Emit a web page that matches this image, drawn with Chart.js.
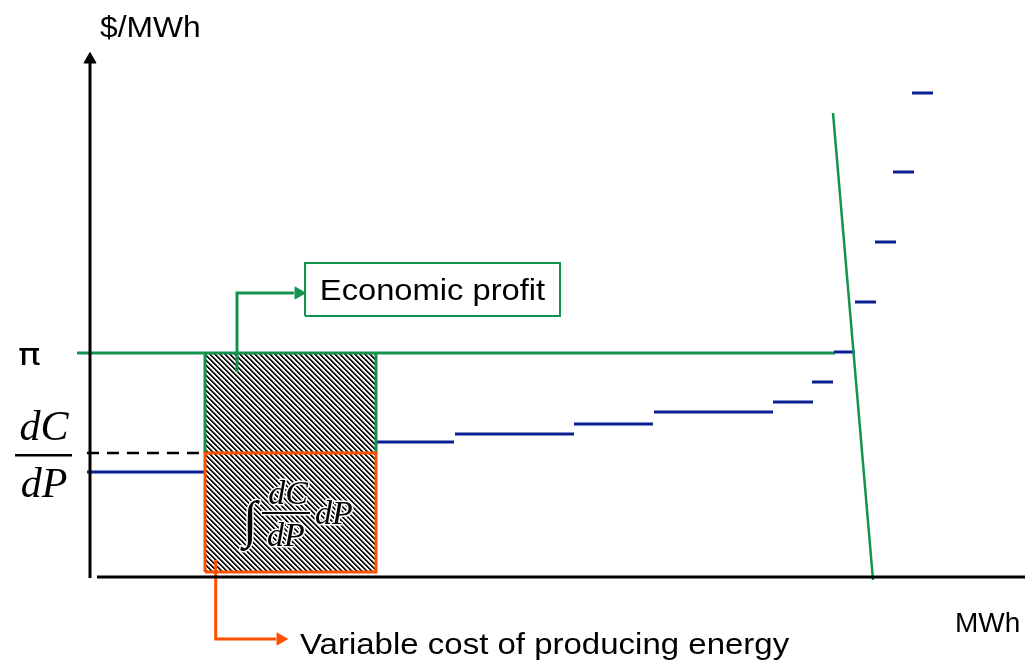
<!DOCTYPE html>
<html>
<head>
<meta charset="utf-8">
<script src="https://cdn.jsdelivr.net/npm/chart.js@4.4.1/dist/chart.umd.min.js"></script>
<style>
  html, body { margin: 0; padding: 0; background: #fff; }
  canvas { display: block; }
</style>
</head>
<body>
<canvas id="chartPasar" width="1025" height="664"></canvas>
<script>
/* =========================
   DATA (x = MWh, y = $/MWh, arbitrary units)
========================= */
// merit order supply steps
const stepPrice = [10.5, 13.5, 14.3, 15.3, 16.5, 17.5, 19.5, 22.5, 27.5, 33.5, 40.5, 48.4];
const stepStart = [-0.3, 28.6, 36.5, 48.4, 56.4, 68.3, 72.2, 74.4, 76.5, 78.5, 80.3, 82.2];
const stepEnd   = [11.5, 36.4, 48.4, 56.3, 68.3, 72.3, 74.3, 76.5, 78.6, 80.6, 82.4, 84.3];

// demand line (almost vertical)
const demandX = [74.3, 78.3];
const demandY = [46.4, -0.3];

// price, marginal cost, and the unit's output block
const price = 22.4;          // pi
const marginalCost = 12.4;   // dC/dP
const unitFrom = 11.5;
const unitTo = 28.6;
const axisStartX = -1.3;     // where pi line starts

// annotation boxes / arrows
const profitBoxX = [21.5, 47.0];
const profitBoxY = [26.1, 31.4];
const profitArrowX = [14.7, 14.7, 20.4];
const profitArrowY = [20.5, 28.4, 28.4];
const costArrowX = [12.57, 12.57, 18.6];
const costArrowY = [1.7, -6.2, -6.2];

const GREEN = "#14934f";
const ORANGE = "#ff5000";
const BLUE = "#0b1f94";

/* =========================
   HELPER
========================= */
function pts(xs, ys) {
  return xs.map((x, i) => ({ x: x, y: ys[i] }));
}

function rectPts(x0, x1, y0, y1) {
  return [{ x: x0, y: y0 }, { x: x1, y: y0 }, { x: x1, y: y1 }, { x: x0, y: y1 }, { x: x0, y: y0 }];
}

function line(data, color, width, order, extra) {
  return Object.assign({
    data: data,
    showLine: true,
    borderColor: color,
    borderWidth: width,
    pointRadius: 0,
    fill: false,
    order: order,
    tension: 0
  }, extra || {});
}

function arrowHead(x, y, color, rotation, radius, order) {
  return {
    data: [{ x: x, y: y }],
    showLine: false,
    pointStyle: "triangle",
    pointRadius: radius,
    pointRotation: rotation,
    pointBackgroundColor: color,
    pointBorderColor: color,
    pointBorderWidth: 1,
    order: order
  };
}

// pola arsir diagonal
function makeHatch() {
  const s = 5;
  const c = document.createElement("canvas");
  c.width = s; c.height = s;
  const g = c.getContext("2d");
  const img = g.createImageData(s, s);
  for (let j = 0; j < s; j++) {
    for (let i = 0; i < s; i++) {
      const d = ((i - j) % s + s) % s;
      let v = 255;
      if (d === 0 || d === 1) v = 20;
      else if (d === 2) v = 150;
      const k = (j * s + i) * 4;
      img.data[k] = v; img.data[k + 1] = v; img.data[k + 2] = v; img.data[k + 3] = 255;
    }
  }
  g.putImageData(img, 0, 0);
  return g.createPattern(c, "repeat");
}

/* =========================
   DATASETS
========================= */
const datasets = [];

// hatched block (profit + variable cost)
datasets.push(line(rectPts(unitFrom, unitTo, 0.4, price), "rgba(0,0,0,0)", 0, 20,
  { fill: "shape", backgroundColor: makeHatch() }));

// blue supply steps
stepPrice.forEach((p, i) => {
  datasets.push(line([{ x: stepStart[i], y: p }, { x: stepEnd[i], y: p }], BLUE, 3, 12));
});

// pi line
datasets.push(line([{ x: axisStartX, y: price }, { x: 74.5, y: price }], GREEN, 3, 13));

// green box sides
datasets.push(line([{ x: unitFrom, y: marginalCost }, { x: unitFrom, y: price }], GREEN, 3, 11));
datasets.push(line([{ x: unitTo, y: marginalCost }, { x: unitTo, y: price }], GREEN, 3, 11));

// orange box
datasets.push(line(rectPts(unitFrom, unitTo, 0.5, marginalCost), ORANGE, 3, 10));

// dashed dC/dP
datasets.push(line([{ x: -0.3, y: marginalCost }, { x: unitFrom, y: marginalCost }], "#000", 2.5, 9,
  { borderDash: [12, 8] }));

// demand
datasets.push(line(pts(demandX, demandY), GREEN, 2.5, 8));

// economic profit box + arrow
datasets.push(line(rectPts(profitBoxX[0], profitBoxX[1], profitBoxY[0], profitBoxY[1]), GREEN, 2, 7));
datasets.push(line(pts(profitArrowX, profitArrowY), GREEN, 3, 6));
datasets.push(arrowHead(20.85, 28.4, GREEN, 90, 7, 5));

// variable cost arrow
datasets.push(line(pts(costArrowX, costArrowY), ORANGE, 3, 6));
datasets.push(arrowHead(19.05, -6.2, ORANGE, 90, 7, 5));

// axes
datasets.push(line([{ x: 0, y: -0.1 }, { x: 0, y: 51.5 }], "#000", 3, 2));
datasets.push(line([{ x: 0.7, y: 0 }, { x: 93.5, y: 0 }], "#000", 3, 2));
datasets.push(arrowHead(0, 51.75, "#000", 0, 7, 1));

/* =========================
   LABEL TEKS
========================= */
function wideText(ctx, text, x, y, stretch) {
  ctx.save();
  ctx.translate(x, y);
  ctx.scale(stretch, 1);
  ctx.fillText(text, 0, 0);
  ctx.restore();
}

function haloText(ctx, text, x, y) {
  ctx.save();
  ctx.strokeStyle = "#fff";
  ctx.lineWidth = 3;
  ctx.lineJoin = "round";
  ctx.strokeText(text, x, y);
  ctx.fillText(text, x, y);
  ctx.restore();
}

const labelPlugin = {
  id: "labelTeks",
  afterDatasetsDraw(chart) {
    const ctx = chart.ctx;
    const sx = chart.scales.x, sy = chart.scales.y;
    const px = v => sx.getPixelForValue(v);
    const py = v => sy.getPixelForValue(v);

    ctx.save();
    ctx.fillStyle = "#000";
    ctx.textBaseline = "alphabetic";

    ctx.font = "30px 'Liberation Sans', Arial, sans-serif";
    ctx.textAlign = "left";
    wideText(ctx, "$/MWh", px(1.0), py(54.0), 1.06);
    wideText(ctx, "Variable cost of producing energy", px(21.0), py(-7.7), 1.1);

    ctx.font = "30px 'DejaVu Sans', sans-serif";
    wideText(ctx, "\u03c0", px(-7.2), py(21.2), 1.25);

    ctx.font = "28px 'Liberation Sans', Arial, sans-serif";
    ctx.fillText("MWh", px(86.5), py(-5.5));

    ctx.textAlign = "center";
    ctx.font = "30px 'Liberation Sans', Arial, sans-serif";
    wideText(ctx, "Economic profit", px((profitBoxX[0] + profitBoxX[1]) / 2), py(27.7), 1.09);

    // dC/dP
    ctx.font = "italic 42px 'Liberation Serif', 'Times New Roman', serif";
    ctx.fillText("dC", px(-4.6), py(13.7));
    ctx.fillText("dP", px(-4.6), py(8.0));
    ctx.fillRect(px(-7.5), py(12.2) - 1, px(-1.8) - px(-7.5), 2.5);

    // integral
    ctx.font = "italic 34px 'Liberation Serif', 'Times New Roman', serif";
    haloText(ctx, "dC", px(19.8), py(7.3));
    haloText(ctx, "dP", px(19.6), py(3.1));
    haloText(ctx, "dP", px(24.4), py(5.3));
    ctx.fillStyle = "#fff";
    ctx.fillRect(px(17.1), py(6.4) - 2.5, px(22.1) - px(17.1), 5);
    ctx.fillStyle = "#000";
    ctx.fillRect(px(17.2), py(6.4) - 1, px(22.0) - px(17.2), 2);
    ctx.font = "italic 52px 'Liberation Serif', 'Times New Roman', serif";
    haloText(ctx, "\u222b", px(16.0), py(4.0));

    ctx.restore();
  }
};

/* =========================
   CHART
========================= */
new Chart(document.getElementById("chartPasar"), {
  type: "scatter",
  data: { datasets: datasets },
  options: {
    responsive: false,
    animation: false,
    devicePixelRatio: 1,
    layout: { padding: 0, autoPadding: false },
    plugins: { legend: { display: false }, tooltip: { enabled: false } },
    elements: { line: { borderCapStyle: "butt" } },
    scales: {
      x: { type: "linear", min: -9, max: 93.5, display: false },
      y: { type: "linear", min: -8.7, max: 57.7, display: false }
    }
  },
  plugins: [labelPlugin]
});
</script>
</body>
</html>
